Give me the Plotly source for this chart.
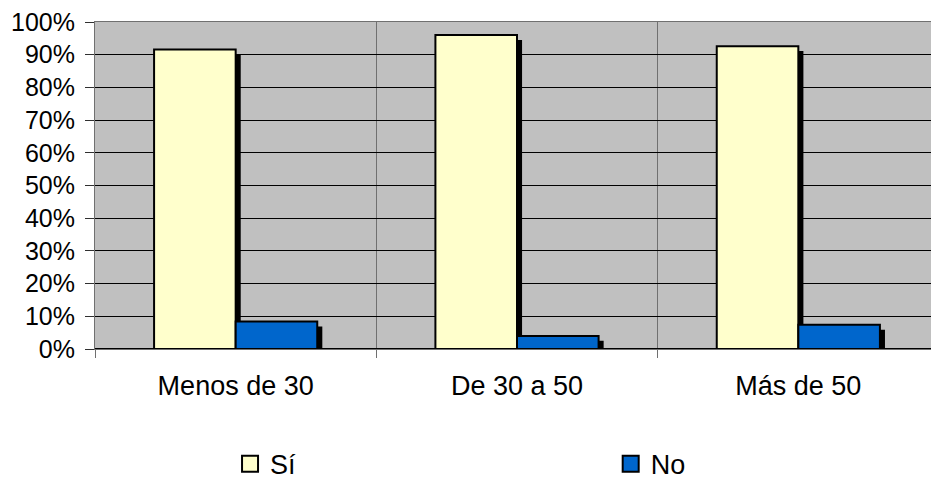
import plotly.graph_objects as go

categories = ["Menos de 30", "De 30 a 50", "Más de 50"]
si_values = [0.916, 0.960, 0.926]
no_values = [0.084, 0.040, 0.074]
series_names = ["Sí", "No"]
series_colors = ["#FFFFCC", "#0066CC"]
y_ticks = [i / 10 for i in range(11)]
y_tick_labels = [f"{i * 10}%" for i in range(11)]

FONT = "Liberation Sans, Arial, sans-serif"
BAR_W = 0.29
SHADOW_DX = 0.018   # shadow horizontal shift (category units)
SHADOW_DY = 0.015   # shadow vertical shift (value units)

fig = go.Figure()
offsets = [-BAR_W, 0.0]
legends = ["legend", "legend2"]
for name, vals, color, off, lg in zip(series_names, [si_values, no_values], series_colors, offsets, legends):
    # drop shadow
    fig.add_trace(go.Bar(
        x=categories, y=[v - SHADOW_DY for v in vals], width=BAR_W, offset=off + SHADOW_DX,
        marker=dict(color="black", line=dict(width=0)), showlegend=False, hoverinfo="skip",
    ))
    fig.add_trace(go.Bar(
        x=categories, y=vals, width=BAR_W, offset=off, name=name, showlegend=False,
        marker=dict(color=color, line=dict(color="black", width=2)),
    ))
    # legend key (larger square swatch)
    fig.add_trace(go.Scatter(
        x=[None], y=[None], mode="markers", name=name, legend=lg, hoverinfo="skip",
        marker=dict(symbol="square", size=16, color=color, line=dict(color="black", width=2)),
    ))

legend_common = dict(
    orientation="h", y=-0.352, yanchor="middle", xanchor="left",
    font=dict(family=FONT, size=27, color="black"),
    itemwidth=30, bgcolor="rgba(0,0,0,0)",
)

fig.update_layout(
    width=939, height=480,
    barmode="overlay",
    paper_bgcolor="white",
    plot_bgcolor="#C0C0C0",
    margin=dict(l=87, r=8, t=14, b=139, autoexpand=False),
    font=dict(family=FONT, size=26, color="black"),
    showlegend=True,
    legend=dict(x=0.160, **legend_common),
    legend2=dict(x=0.611, **legend_common),
    xaxis=dict(
        type="category", tickson="boundaries", showgrid=True, gridcolor="#707070", gridwidth=1,
        showline=True, linecolor="#707070", linewidth=1, mirror=True,
        ticks="outside", ticklen=8, tickcolor="#707070", ticklabelstandoff=13,
        tickfont=dict(family=FONT, size=27, color="black"),
    ),
    yaxis=dict(
        range=[0, 1], tickvals=y_ticks, ticktext=y_tick_labels,
        showgrid=True, gridcolor="black", gridwidth=1,
        zeroline=True, zerolinecolor="black", zerolinewidth=2,
        showline=True, linecolor="#707070", linewidth=1,
        ticks="outside", ticklen=9, tickcolor="#303030", ticklabelstandoff=5,
        ticklabeloverflow="allow",
        tickfont=dict(family=FONT, size=25, color="black"),
    ),
)

fig.write_html("out.html")
